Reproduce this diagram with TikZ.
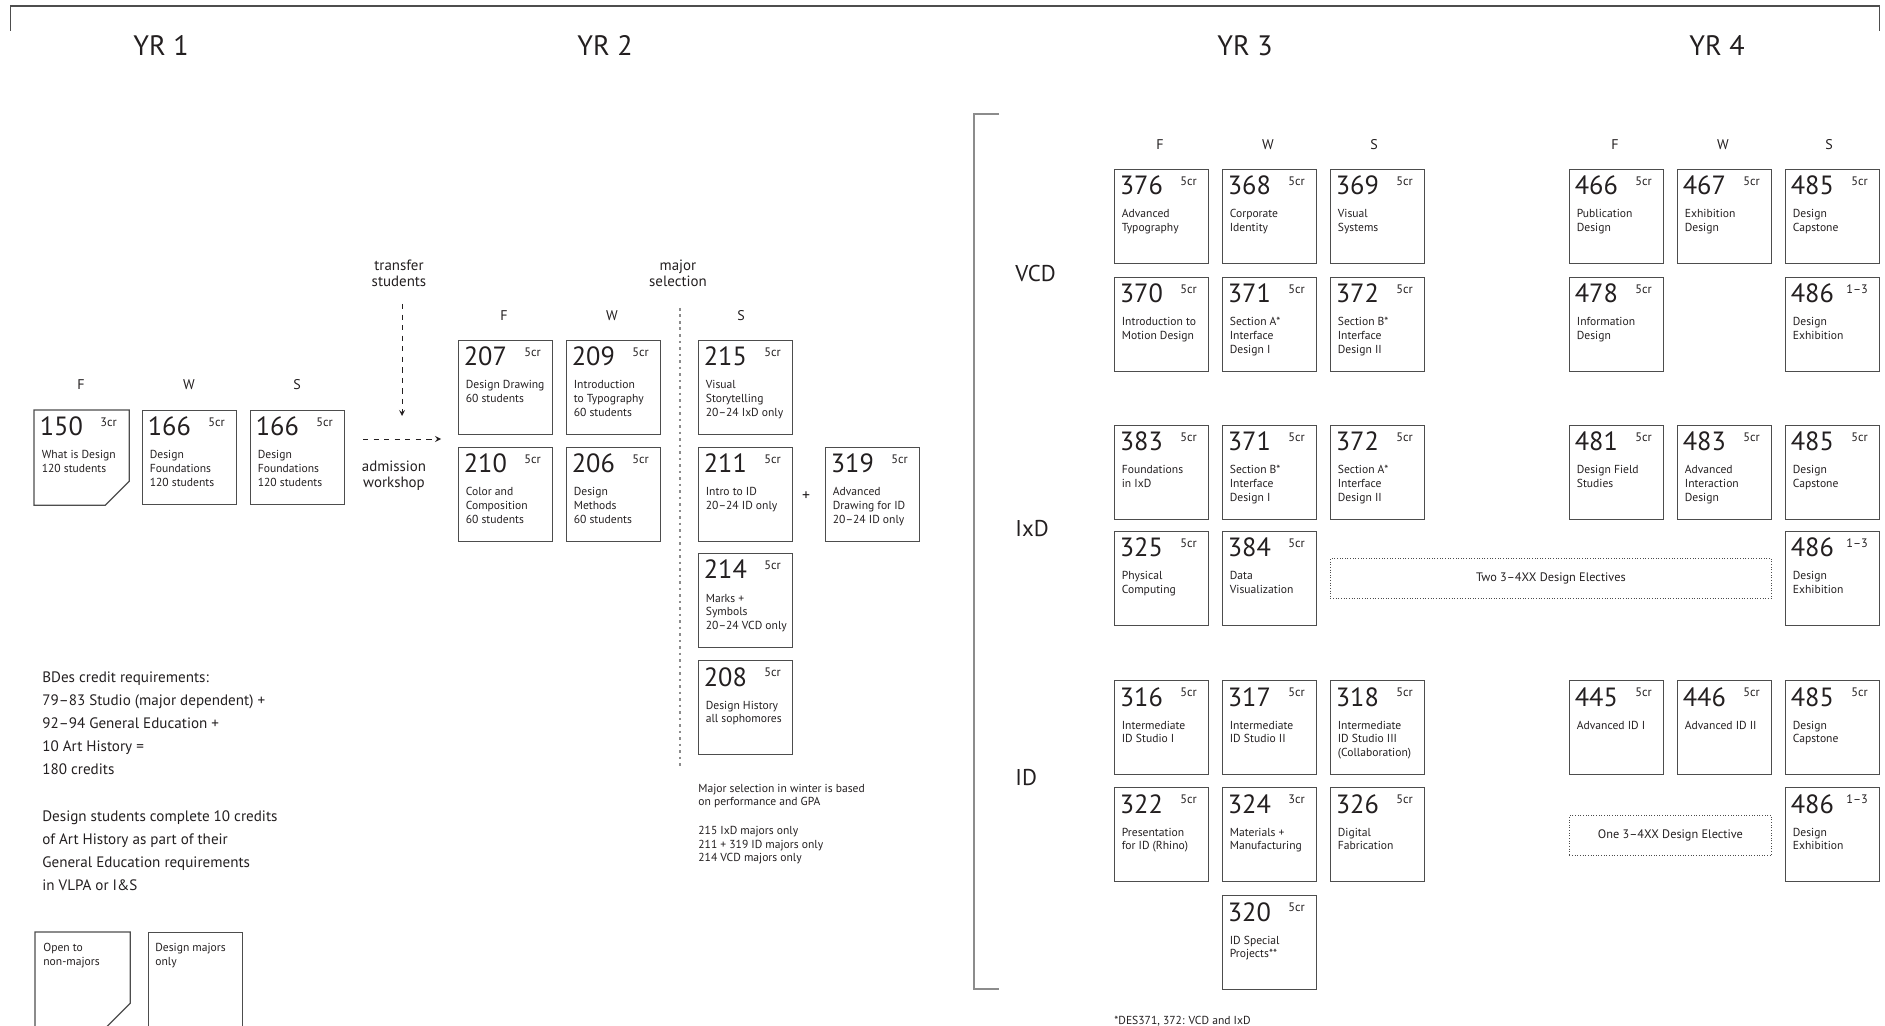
\documentclass[tikz,border=0pt]{standalone}
\usepackage{fontspec}
\setmainfont{PT Sans}
\usetikzlibrary{arrows,positioning}

\definecolor{ink}{HTML}{231F20}
\definecolor{boxline}{HTML}{4D4D4D}
\definecolor{rulegray}{HTML}{8C8C8C}

% lines of text, baseline on the first line
\newcommand{\toplines}[1]{\begin{tabular}[t]{@{}l@{}}#1\end{tabular}}

% one course: [style]{name}{top left}{number}{credits}{title}
\newcommand{\coursebox}[6][course]{%
	\node[#1] (#2) at (#3) {};
	\node[cnum] (#2num) at ([shift={(5.5,26)}]#2.north west) {#4};
	\node[ccr]  (#2cr)  at ([shift={(-12,16.5)}]#2.north east) {#5};
	\node[cdesc] (#2txt) at ([shift={(7.5,49)}]#2.north west) {\toplines{#6}};
}

\begin{document}
\begin{tikzpicture}[
	x=0.02cm, y=-0.02cm,
	every node/.style={text=ink},
	course/.style={draw=boxline, line width=0.7pt, minimum width=1.88cm,
		minimum height=1.88cm, inner sep=0, anchor=north west},
	opencourse/.style={course, draw=none},
	cnum/.style={anchor=base west, inner sep=0, font=\fontsize{15}{15}\selectfont},
	ccr/.style={anchor=base east, inner sep=0, font=\fontsize{7}{7}\selectfont},
	cdesc/.style={anchor=base west, inner sep=0, font=\fontsize{6.6}{7.9}\selectfont},
	term/.style={inner sep=0, font=\fontsize{8}{8}\selectfont},
	year/.style={inner sep=0, font=\fontsize{16}{16}\selectfont},
	major/.style={anchor=west, inner sep=0, font=\fontsize{13}{13}\selectfont},
	remark/.style={inner sep=0, align=center, font=\fontsize{8.5}{9}\selectfont},
	note/.style={anchor=base west, inner sep=0, font=\fontsize{6.6}{7.7}\selectfont},
	credit/.style={anchor=base west, inner sep=0, font=\fontsize{8.6}{13.2}\selectfont},
	elective/.style={draw=boxline, densely dotted, line width=0.5pt, anchor=north west,
		inner sep=0, minimum height=0.8cm, font=\fontsize{7}{7}\selectfont},
	flow/.style={-stealth, dashed, line width=0.5pt, draw=ink},
	frame/.style={draw=boxline, line width=0.6pt},
	bracket/.style={draw=rulegray, line width=0.8pt},
	divider/.style={draw=rulegray, line width=0.7pt, dash pattern=on 1.5pt off 2.2pt}
]
	\useasboundingbox (0,0) rectangle (1885,1026);

	% Frame and year headings
	\draw[frame] (10.7,31) -- (10.7,6) -- (1879,6) -- (1879,31);
	\node[year] (yr1) at (161,45.5)  {YR 1};
	\node[year] (yr2) at (605,45.5)  {YR 2};
	\node[year] (yr3) at (1245,45.5) {YR 3};
	\node[year] (yr4) at (1717,45.5) {YR 4};

	% Year 1
	\node[term] (t1f) at (81,385)  {F};
	\node[term] (t1w) at (189,385) {W};
	\node[term] (t1s) at (297,385) {S};
	\coursebox[opencourse]{c150}{34,410}{150}{3cr}{What is Design\\120 students}
	\draw[frame, line width=0.7pt] (c150.north west) -- (c150.north east)
		-- ([shift={(0,-24)}]c150.south east) -- ([shift={(-24,0)}]c150.south east)
		-- (c150.south west) -- cycle;
	\coursebox{c166a}{142,410}{166}{5cr}{Design\\Foundations\\120 students}
	\coursebox{c166b}{250,410}{166}{5cr}{Design\\Foundations\\120 students}

	% Entry into year 2
	\node[remark] (transfer) at (399,273) {transfer\\students};
	\node[remark] (admission) at (394,476) {admission\\workshop};
	\coordinate (trtop) at (402,304);
	\coordinate (trend) at (402,416);
	\coordinate (adstart) at (363,439);
	\coordinate (adend) at (441,439);
	\draw[flow] (trtop) -- (trend);
	\draw[flow] (adstart) -- (adend);

	% Year 2
	\node[remark] (majorsel) at (678,273) {major\\selection};
	\draw[divider] (680,308) -- (680,769);
	\node[term] (t2f) at (504,315.5) {F};
	\node[term] (t2w) at (612,315.5) {W};
	\node[term] (t2s) at (741,315.5) {S};
	\coursebox{c207}{458,340}{207}{5cr}{Design Drawing\\60 students}
	\coursebox{c209}{566,340}{209}{5cr}{Introduction\\to Typography\\60 students}
	\coursebox{c215}{698,340}{215}{5cr}{Visual\\Storytelling\\20–24 IxD only}
	\coursebox{c210}{458,447}{210}{5cr}{Color and\\Composition\\60 students}
	\coursebox{c206}{566,447}{206}{5cr}{Design\\Methods\\60 students}
	\coursebox{c211}{698,447}{211}{5cr}{Intro to ID\\20–24 ID only}
	\node[inner sep=0, font=\fontsize{9}{9}\selectfont] (plus) at (806,496) {+};
	\coursebox{c319}{825,447}{319}{5cr}{Advanced\\Drawing for ID\\20–24 ID only}
	\coursebox{c214}{698,553}{214}{5cr}{Marks +\\Symbols\\20–24 VCD only}
	\coursebox{c208}{698,660}{208}{5cr}{Design History\\all sophomores}
	\node[note] (selnote) at (698,792) {\toplines{Major selection in winter is based\\
		on performance and GPA\\[8.9pt]215 IxD majors only\\211 + 319 ID majors only\\
		214 VCD majors only}};

	% Credit requirements and legend
	\node[credit] (credits) at (42,682) {\toplines{BDes credit requirements:\\
		79–83 Studio (major dependent) +\\92–94 General Education +\\
		10 Art History =\\180 credits\\[13.2pt]
		Design students complete 10 credits\\of Art History as part of their\\
		General Education requirements\\in VLPA or I\&S}};
	\node[opencourse] (legopen) at (35,932) {};
	\draw[frame, line width=0.7pt] (legopen.north west) -- (legopen.north east)
		-- ([shift={(0,-24)}]legopen.south east) -- ([shift={(-24,0)}]legopen.south east)
		-- (legopen.south west) -- cycle;
	\node[cdesc] (legopentxt) at (43,951.7) {\toplines{Open to\\non-majors}};
	\node[course] (legmajor) at (148,932) {};
	\node[cdesc] (legmajortxt) at (155,951.7) {\toplines{Design majors\\only}};

	% Years 3 and 4
	\draw[bracket] (999,114) -- (974,114) -- (974,989) -- (999,989);
	\node[term] (t3f) at (1160,145) {F};
	\node[term] (t3w) at (1268,145) {W};
	\node[term] (t3s) at (1374,145) {S};
	\node[term] (t4f) at (1615,145) {F};
	\node[term] (t4w) at (1723,145) {W};
	\node[term] (t4s) at (1829,145) {S};

	% VCD
	\node[major] (vcd) at (1015,273.7) {VCD};
	\coursebox{c376}{1114,169}{376}{5cr}{Advanced\\Typography}
	\coursebox{c368}{1222,169}{368}{5cr}{Corporate\\Identity}
	\coursebox{c369}{1330,169}{369}{5cr}{Visual\\Systems}
	\coursebox{c370}{1114,277}{370}{5cr}{Introduction to\\Motion Design}
	\coursebox{c371v}{1222,277}{371}{5cr}{Section A*\\Interface\\Design I}
	\coursebox{c372v}{1330,277}{372}{5cr}{Section B*\\Interface\\Design II}
	\coursebox{c466}{1569,169}{466}{5cr}{Publication\\Design}
	\coursebox{c467}{1677,169}{467}{5cr}{Exhibition\\Design}
	\coursebox{c485v}{1785,169}{485}{5cr}{Design\\Capstone}
	\coursebox{c478}{1569,277}{478}{5cr}{Information\\Design}
	\coursebox{c486v}{1785,277}{486}{1–3}{Design\\Exhibition}

	% IxD
	\node[major] (ixd) at (1015,528.3) {IxD};
	\coursebox{c383}{1114,425}{383}{5cr}{Foundations\\in IxD}
	\coursebox{c371i}{1222,425}{371}{5cr}{Section B*\\Interface\\Design I}
	\coursebox{c372i}{1330,425}{372}{5cr}{Section A*\\Interface\\Design II}
	\coursebox{c325}{1114,531}{325}{5cr}{Physical\\Computing}
	\coursebox{c384}{1222,531}{384}{5cr}{Data\\Visualization}
	\node[elective, minimum width=8.82cm] (ixdelect) at (1330,558)
		{Two 3–4XX Design Electives};
	\coursebox{c481}{1569,425}{481}{5cr}{Design Field\\Studies}
	\coursebox{c483}{1677,425}{483}{5cr}{Advanced\\Interaction\\Design}
	\coursebox{c485i}{1785,425}{485}{5cr}{Design\\Capstone}
	\coursebox{c486i}{1785,531}{486}{1–3}{Design\\Exhibition}

	% ID
	\node[major] (id) at (1015,778) {ID};
	\coursebox{c316}{1114,680}{316}{5cr}{Intermediate\\ID Studio I}
	\coursebox{c317}{1222,680}{317}{5cr}{Intermediate\\ID Studio II}
	\coursebox{c318}{1330,680}{318}{5cr}{Intermediate\\ID Studio III\\(Collaboration)}
	\coursebox{c322}{1114,787}{322}{5cr}{Presentation\\for ID (Rhino)}
	\coursebox{c324}{1222,787}{324}{3cr}{Materials +\\Manufacturing}
	\coursebox{c326}{1330,787}{326}{5cr}{Digital\\Fabrication}
	\coursebox{c320}{1222,895}{320}{5cr}{ID Special\\Projects**}
	\coursebox{c445}{1569,680}{445}{5cr}{Advanced ID I}
	\coursebox{c446}{1677,680}{446}{5cr}{Advanced ID II}
	\coursebox{c485d}{1785,680}{485}{5cr}{Design\\Capstone}
	\node[elective, minimum width=4.04cm] (idelect) at (1569,815)
		{One 3–4XX Design Elective};
	\coursebox{c486d}{1785,787}{486}{1–3}{Design\\Exhibition}

	\node[note] (footnote) at (1114,1024) {*DES371, 372: VCD and IxD};
\end{tikzpicture}
\end{document}
